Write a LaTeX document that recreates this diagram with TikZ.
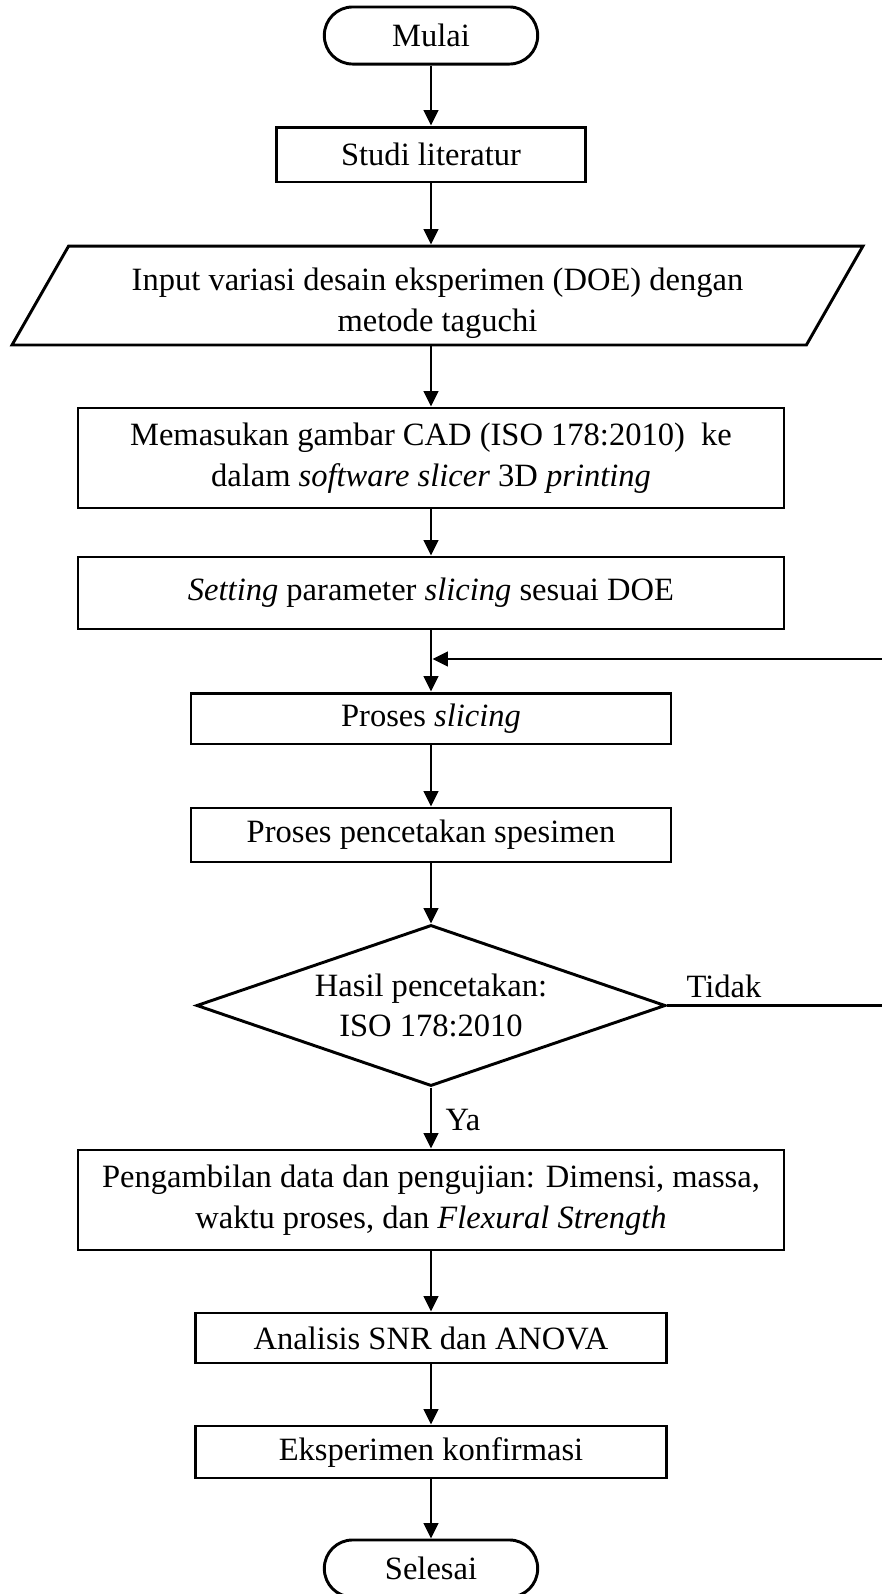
\documentclass[tikz,border=0pt]{standalone}
\usepackage{fontspec}
\setmainfont{Liberation Serif}
\usetikzlibrary{shapes.geometric,arrows.meta}
\begin{document}
\begin{tikzpicture}[x=0.375pt,y=-0.375pt,
  every node/.style={font=\fontsize{12.2}{15.3}\selectfont, inner sep=0pt, align=center},
  box/.style={draw, line width=1.1pt, rectangle},
  term/.style={draw, line width=1.1pt, rectangle, rounded corners=10.6pt, minimum width=80pt, minimum height=21.4pt},
  arr/.style={line width=1.1pt, -{Triangle[length=5.8pt,width=5.4pt]}},
  ln/.style={line width=1.1pt}]
\useasboundingbox (0,0) rectangle (882,1594);
\node[term] (M) at (431,35.5) {Mulai};
\node[box, minimum width=115.9pt, minimum height=20.6pt] (S) at (431,154.5) {Studi literatur};
\node[draw, line width=1.1pt, trapezium, trapezium left angle=56.4, trapezium right angle=123.6,
      trapezium stretches body, minimum width=319.1pt, minimum height=37.1pt] (P) at (437.5,295.5)
  {\rule{0pt}{14pt}Input variasi desain eksperimen (DOE) dengan\\metode taguchi};
\node[box, minimum width=264.75pt, minimum height=37.5pt] (Mem) at (431,458)
  {Memasukan gambar CAD (ISO 178:2010)~ ke\\dalam \textit{software slicer} 3D \textit{printing}};
\node[box, minimum width=264.75pt, minimum height=27pt] (Set) at (431,593)
  {\textit{Setting} parameter \textit{slicing} sesuai DOE};
\node[box, minimum width=180pt, minimum height=19.1pt] (Sl) at (431,718.5) {Proses \textit{slicing}};
\node[box, minimum width=180pt, minimum height=20.25pt] (Pc) at (431,835) {Proses pencetakan spesimen};
\node[draw, line width=1.1pt, diamond, aspect=2.9, minimum width=175.9pt, minimum height=60.4pt] (D) at (431,1005.5)
  {Hasil pencetakan:\\ISO 178:2010};
\node[box, minimum width=264.75pt, minimum height=37.5pt] (Pg) at (431,1200)
  {Pengambilan data dan pengujian: Dimensi, massa,\\waktu proses, dan \textit{Flexural Strength}};
\node[box, minimum width=176.6pt, minimum height=18.75pt] (An) at (431,1338) {Analisis SNR dan ANOVA};
\node[box, minimum width=176.6pt, minimum height=19.5pt] (Ek) at (431,1452) {Eksperimen konfirmasi};
\node[term] (Se) at (431,1568.5) {Selesai};
\node[anchor=base west] (lt) at (686,997) {Tidak};
\node[anchor=base west] (ly) at (445,1130) {Ya};
\coordinate (fr) at (888,659);
\coordinate (fb) at (432.5,659);
\draw[arr] (M.south) -- (S.north);
\draw[arr] (S.south) -- (S.south |- P.north);
\draw[arr] (P.south -| Mem.north) -- (Mem.north);
\draw[arr] (Mem.south) -- (Set.north);
\draw[arr] (Set.south) -- (Sl.north);
\draw[arr] (Sl.south) -- (Pc.north);
\draw[arr] (Pc.south) -- (D.north);
\draw[arr] (D.south) -- (Pg.north);
\draw[arr] (Pg.south) -- (An.north);
\draw[arr] (An.south) -- (Ek.north);
\draw[arr] (Ek.south) -- (Se.north);
\draw[arr] (D.east) -| (fr) -- (fb);
\end{tikzpicture}
\end{document}
